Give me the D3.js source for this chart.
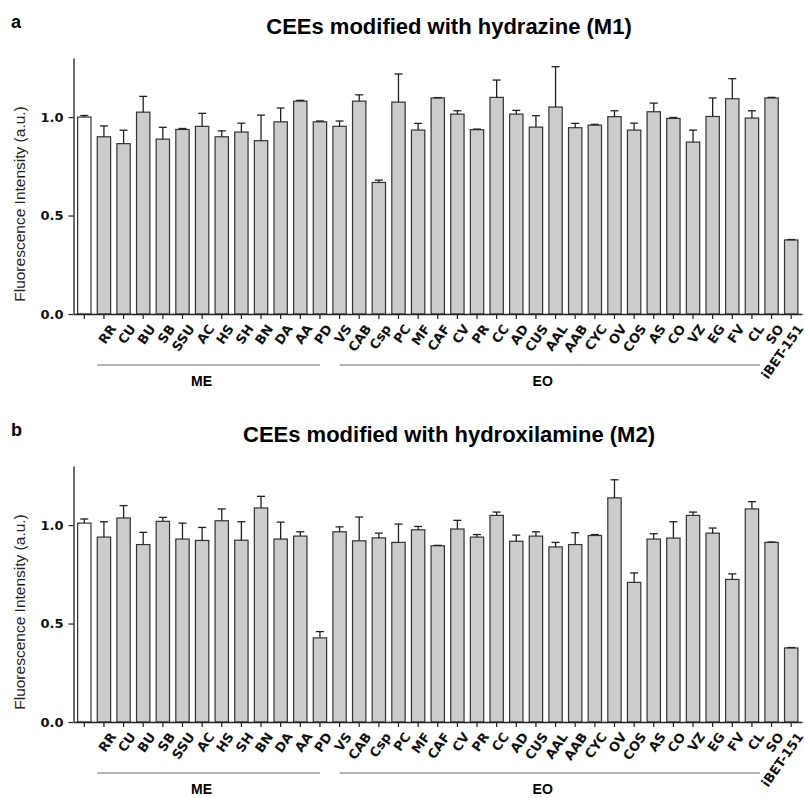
<!DOCTYPE html>
<html>
<head>
<meta charset="utf-8">
<script src="https://cdn.jsdelivr.net/npm/d3@7"></script>
<style>
  body { margin: 0; background: #fff; }
  svg { display: block; }
</style>
</head>
<body>
<div class="chart-container"></div>
<script>
// Data
var labels = ["", "RR", "CU", "BU", "SB", "SSU", "AC", "HS", "SH", "BN", "DA", "AA", "PD",
  "VS", "CAB", "Csp", "PC", "MF", "CAF", "CV", "PR", "CC", "AD", "CUS", "AAL", "AAB", "CYC",
  "OV", "COS", "AS", "CO", "VZ", "EG", "FV", "CL", "SO", "iBET-151"];

var m1Values = [1.00, 0.90, 0.865, 1.025, 0.888, 0.937, 0.953, 0.90, 0.924, 0.88, 0.976, 1.081, 0.976,
  0.953, 1.081, 0.668, 1.076, 0.934, 1.097, 1.015, 0.936, 1.10, 1.015, 0.949, 1.051, 0.946, 0.959,
  1.002, 0.934, 1.027, 0.993, 0.873, 1.003, 1.093, 0.995, 1.097, 0.376];
var m1Errors = [0.008, 0.055, 0.068, 0.08, 0.06, 0.005, 0.066, 0.03, 0.045, 0.13, 0.07, 0.004, 0.004,
  0.027, 0.032, 0.012, 0.143, 0.034, 0.002, 0.017, 0.003, 0.088, 0.019, 0.058, 0.205, 0.022, 0.004,
  0.03, 0.035, 0.044, 0.005, 0.061, 0.094, 0.102, 0.037, 0.003, 0.002];

var m2Values = [1.01, 0.939, 1.036, 0.901, 1.019, 0.929, 0.922, 1.022, 0.923, 1.087, 0.929, 0.944, 0.427,
  0.966, 0.92, 0.935, 0.912, 0.976, 0.895, 0.98, 0.939, 1.049, 0.918, 0.944, 0.889, 0.901, 0.947,
  1.138, 0.709, 0.929, 0.934, 1.049, 0.959, 0.724, 1.082, 0.912, 0.376];
var m2Errors = [0.021, 0.078, 0.063, 0.062, 0.02, 0.081, 0.066, 0.06, 0.094, 0.059, 0.086, 0.022, 0.032,
  0.025, 0.121, 0.024, 0.093, 0.017, 0.002, 0.044, 0.013, 0.017, 0.031, 0.022, 0.023, 0.06, 0.005,
  0.092, 0.048, 0.027, 0.083, 0.017, 0.026, 0.028, 0.037, 0.002, 0.002];

var yTicks = [0, 0.5, 1.0];
var groups = [
  { name: "ME", first: "RR", last: "PD" },
  { name: "EO", first: "VS", last: "SO" }
];

var width = 805, height = 798;

var svg = d3.select('.chart-container').append("svg")
    .attr("width", width)
    .attr("height", height);

// Scales (shared by both panels)
var x = d3.scaleBand()
    .domain(d3.range(labels.length))
    .range([73.5, 802])
    .paddingInner(0.32)
    .paddingOuter(0.21);
var y = d3.scaleLinear()
    .domain([0, 1.3])
    .range([314, 58]);

function drawPanel(offsetY, letter, title, values, errors) {
    var g = svg.append("g")
        .attr("transform", "translate(0," + offsetY + ")");

    // Panel letter + title
    g.append("text")
        .attr("x", 11).attr("y", 28)
        .style("font", "bold 18px 'Liberation Sans', Arial, sans-serif")
        .text(letter);
    g.append("text")
        .attr("x", 449).attr("y", 34)
        .attr("text-anchor", "middle")
        .style("font", "bold 22px 'Liberation Sans', Arial, sans-serif")
        .text(title);

    // Y label
    g.append("text")
        .attr("transform", "translate(25,204) rotate(-90)")
        .attr("text-anchor", "middle")
        .style("font", "15.5px 'Liberation Sans', Arial, sans-serif")
        .style("fill", "#222")
        .text("Fluorescence Intensity (a.u.)");

    var data = values.map(function(v, i) { return { i: i, v: v, e: errors[i] }; });

    // Bars
    g.selectAll(".bar")
        .data(data)
        .enter().append("rect")
        .attr("class", "bar")
        .attr("x", function(d) { return x(d.i); })
        .attr("width", x.bandwidth())
        .attr("y", function(d) { return y(d.v); })
        .attr("height", function(d) { return y(0) - y(d.v); })
        .attr("fill", function(d) { return d.i === 0 ? "#ffffff" : "#cccccc"; })
        .attr("stroke", "#333")
        .attr("stroke-width", 1.2);

    // Error bars (upper only)
    var eb = g.selectAll(".err")
        .data(data)
        .enter().append("g")
        .attr("class", "err")
        .attr("stroke", "#222")
        .attr("stroke-width", 1.3);
    eb.append("line")
        .attr("x1", function(d) { return x(d.i) + x.bandwidth() / 2; })
        .attr("x2", function(d) { return x(d.i) + x.bandwidth() / 2; })
        .attr("y1", function(d) { return y(d.v); })
        .attr("y2", function(d) { return y(d.v + d.e); });
    eb.append("line")
        .attr("x1", function(d) { return x(d.i) + x.bandwidth() / 2 - 4; })
        .attr("x2", function(d) { return x(d.i) + x.bandwidth() / 2 + 4; })
        .attr("y1", function(d) { return y(d.v + d.e); })
        .attr("y2", function(d) { return y(d.v + d.e); });

    // X axis
    var xAxis = g.append("g")
        .attr("class", "x-axis")
        .attr("transform", "translate(0," + y(0) + ")")
        .call(d3.axisBottom(x).tickSize(5).tickSizeOuter(0)
            .tickFormat(function(i) { return labels[i]; }));
    xAxis.select(".domain").attr("stroke", "#222").attr("stroke-width", 1.3);
    xAxis.selectAll(".tick line").attr("stroke", "#222").attr("stroke-width", 1.2);
    xAxis.selectAll("text")
        .attr("x", 0)
        .attr("y", 0)
        .attr("dy", ".35em")
        .attr("transform", "translate(9,12) rotate(-55)")
        .style("text-anchor", "end")
        .style("font", "bold 13px 'DejaVu Sans', Verdana, sans-serif")
        .style("fill", "#111");

    // Y axis
    var yAxis = g.append("g")
        .attr("class", "y-axis")
        .attr("transform", "translate(73.5,0)")
        .call(d3.axisLeft(y).tickValues(yTicks).tickSize(5).tickPadding(5).tickSizeOuter(0)
            .tickFormat(d3.format(".1f")));
    yAxis.select(".domain").attr("stroke", "#222").attr("stroke-width", 1.3);
    yAxis.selectAll(".tick line").attr("stroke", "#222").attr("stroke-width", 1.2);
    yAxis.selectAll("text")
        .style("font", "bold 13px 'DejaVu Sans', Verdana, sans-serif")
        .style("fill", "#111");

    // Group lines and names
    var half = x.bandwidth() / 2;
    groups.forEach(function(gr) {
        var i0 = labels.indexOf(gr.first), i1 = labels.indexOf(gr.last);
        var x0 = gr.name === "ME" ? x(i0) : x(i0) + half;
        var x1 = gr.name === "ME" ? x(i1) + half : x(i1) - 5;
        g.append("line")
            .attr("x1", x0).attr("x2", x1)
            .attr("y1", 365).attr("y2", 365)
            .attr("stroke", "#999")
            .attr("stroke-width", 1.5);
        g.append("text")
            .attr("x", (x0 + x1) / 2 - 7)
            .attr("y", 386)
            .attr("text-anchor", "middle")
            .style("font", "bold 14px 'Liberation Sans', Arial, sans-serif")
            .text(gr.name);
    });
}

drawPanel(0, "a", "CEEs modified with hydrazine (M1)", m1Values, m1Errors);
drawPanel(408, "b", "CEEs modified with hydroxilamine (M2)", m2Values, m2Errors);
</script>
</body>
</html>
